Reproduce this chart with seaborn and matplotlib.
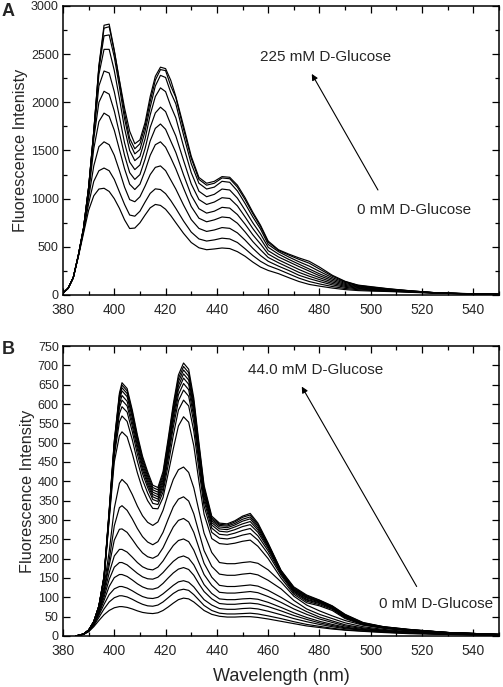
import numpy as np
import pandas as pd
import matplotlib
matplotlib.use("Agg")
import matplotlib.pyplot as plt
import seaborn as sns
from matplotlib.ticker import MultipleLocator

sns.set_style("ticks")
plt.rcParams['font.family'] = ['Liberation Sans', 'DejaVu Sans']

# ---------------- Panel A data (0 -> 225 mM D-Glucose) ----------------
wl_a = [380, 382, 384, 386, 388, 390, 392, 394, 396, 398,
        400, 402, 404, 406, 408, 410, 412, 414, 416, 418,
        420, 422, 424, 427, 430, 433, 436, 439, 442, 445,
        448, 451, 454, 457, 460, 464, 468, 472, 476, 480,
        485, 490, 495, 500, 507, 515, 525, 535, 550]

a0 = [20, 70, 180, 400, 640, 880, 1030, 1100, 1108, 1075,
      1000, 900, 780, 690, 695, 750, 830, 905, 940, 930,
      890, 825, 750, 640, 545, 490, 470, 478, 488, 482,
      450, 402, 342, 290, 255, 222, 180, 140, 110, 92,
      72, 56, 46, 41, 36, 28, 19, 13, 6]
a1 = [20, 70, 180, 405, 660, 950, 1180, 1290, 1318, 1290,
      1200, 1070, 940, 830, 818, 870, 965, 1055, 1102, 1095,
      1052, 981, 899, 768, 653, 582, 560, 572, 590, 582,
      545, 480, 410, 350, 305, 265, 220, 175, 140, 115,
      88, 68, 55, 47, 40, 31, 20, 13, 6]
a2 = [20, 70, 180, 410, 675, 1010, 1340, 1540, 1590, 1560,
      1450, 1290, 1120, 990, 968, 1020, 1130, 1250, 1325, 1340,
      1291, 1195, 1099, 934, 783, 691, 660, 675, 700, 692,
      645, 570, 485, 410, 350, 300, 255, 205, 170, 140,
      105, 80, 63, 53, 44, 33, 21, 14, 7]
a3 = [20, 70, 180, 412, 685, 1060, 1520, 1800, 1888, 1855,
      1710, 1510, 1310, 1150, 1095, 1150, 1290, 1450, 1560, 1590,
      1534, 1426, 1309, 1109, 918, 797, 760, 780, 810, 802,
      745, 655, 555, 470, 390, 335, 285, 235, 195, 160,
      120, 90, 70, 58, 47, 35, 22, 14, 7]
a4 = [20, 70, 180, 413, 688, 1090, 1620, 2000, 2115, 2085,
      1910, 1680, 1450, 1270, 1200, 1250, 1410, 1600, 1730, 1775,
      1720, 1599, 1479, 1248, 1035, 896, 850, 870, 910, 902,
      835, 735, 625, 530, 425, 365, 315, 265, 220, 180,
      135, 100, 77, 63, 50, 37, 22, 14, 7]
a5 = [20, 70, 180, 414, 690, 1105, 1660, 2170, 2325, 2305,
      2110, 1850, 1580, 1380, 1302, 1350, 1520, 1740, 1890, 1950,
      1904, 1772, 1650, 1397, 1153, 991, 940, 965, 1010, 1002,
      925, 810, 690, 585, 460, 395, 345, 295, 248, 200,
      150, 110, 83, 68, 53, 39, 23, 15, 7]
a6 = [20, 70, 180, 415, 690, 1115, 1685, 2290, 2550, 2550,
      2330, 2040, 1730, 1500, 1395, 1440, 1620, 1870, 2060, 2150,
      2111, 1963, 1838, 1543, 1270, 1077, 1020, 1045, 1100, 1090,
      1005, 880, 750, 635, 495, 425, 370, 320, 270, 220,
      165, 120, 89, 73, 56, 41, 23, 15, 7]
a7 = [20, 70, 180, 415, 692, 1118, 1695, 2350, 2690, 2700,
      2470, 2160, 1830, 1580, 1465, 1510, 1700, 1950, 2170, 2280,
      2258, 2103, 1984, 1661, 1363, 1160, 1100, 1120, 1180, 1170,
      1080, 950, 810, 685, 525, 450, 395, 345, 300, 245,
      180, 130, 95, 78, 60, 43, 24, 15, 8]
a8 = [20, 70, 180, 415, 695, 1120, 1700, 2370, 2770, 2785,
      2530, 2220, 1890, 1625, 1518, 1570, 1750, 2010, 2230, 2340,
      2329, 2171, 2050, 1722, 1419, 1200, 1140, 1160, 1215, 1207,
      1120, 990, 845, 712, 548, 463, 415, 370, 330, 270,
      195, 138, 100, 83, 63, 44, 24, 16, 8]
a9 = [20, 70, 180, 415, 695, 1120, 1700, 2380, 2800, 2812,
      2540, 2230, 1940, 1700, 1570, 1610, 1790, 2060, 2270, 2365,
      2350, 2230, 2060, 1755, 1440, 1220, 1160, 1180, 1229, 1222,
      1140, 1010, 860, 725, 560, 470, 425, 385, 350, 290,
      205, 142, 103, 87, 65, 45, 24, 16, 8]
curves_a = [a0, a1, a2, a3, a4, a5, a6, a7, a8, a9]

# ---------------- Panel B data (0 -> 44.0 mM D-Glucose) ----------------
wl_b = [385, 388, 390, 392, 394, 396, 398, 400, 402, 403,
        405, 407, 409, 411, 413, 415, 417, 419, 421, 423,
        425, 427, 429, 431, 433, 435, 438, 441, 444, 447,
        450, 453, 456, 460, 465, 470, 475, 480, 485, 490,
        497, 505, 515, 530, 550]

b0 = [0, 4, 11, 24, 40, 55, 66, 73, 76, 76, 74, 70, 65, 61, 59, 58, 60, 66, 75, 85,
      94, 98, 96, 88, 77, 66, 56, 51, 49, 49, 50, 50,
      48, 44, 38, 32, 26, 22, 18, 15, 12, 9, 6, 4, 2]
b1 = [0, 4, 12, 27, 48, 70, 88, 99, 104, 104, 101, 95, 88, 82, 78, 77, 80, 88, 99, 110,
      118, 121, 118, 107, 93, 79, 66, 59, 57, 57, 58, 59,
      57, 52, 45, 37, 30, 25, 20, 16, 13, 10, 7, 4, 2]
b2 = [0, 5, 13, 29, 54, 82, 107, 122, 128, 128, 124, 117, 109, 102, 98, 97, 100, 109, 120, 131,
      140, 143, 139, 127, 110, 94, 80, 71, 69, 69, 71, 72,
      70, 64, 55, 45, 37, 30, 24, 19, 15, 11, 8, 5, 2]
b3 = [0, 5, 13, 30, 58, 92, 128, 151, 159, 159, 154, 145, 135, 127, 122, 121, 125, 136, 150, 163,
      173, 177, 172, 157, 135, 115, 96, 84, 82, 82, 84, 85,
      83, 76, 65, 53, 43, 34, 27, 21, 16, 12, 8, 5, 2]
b4 = [0, 5, 14, 31, 61, 100, 146, 178, 190, 190, 184, 173, 162, 153, 148, 147, 152, 164, 179, 193,
      203, 207, 201, 184, 158, 133, 110, 96, 94, 94, 96, 97,
      95, 87, 74, 60, 48, 38, 30, 23, 17, 13, 9, 5, 2]
b5 = [0, 5, 14, 32, 64, 108, 163, 207, 224, 224, 217, 204, 190, 179, 173, 171, 178, 194, 215, 234,
      247, 251, 244, 222, 190, 159, 131, 113, 111, 111, 113, 115,
      112, 102, 87, 70, 56, 44, 35, 26, 19, 14, 9, 6, 3]
b6 = [0, 5, 14, 33, 66, 115, 182, 248, 276, 277, 268, 250, 231, 215, 205, 201, 208, 228, 256, 282,
      299, 304, 295, 268, 228, 188, 152, 131, 128, 128, 130, 132,
      129, 118, 100, 80, 63, 49, 39, 29, 21, 15, 10, 6, 3]
b7 = [0, 5, 15, 34, 68, 120, 196, 285, 332, 337, 325, 303, 278, 257, 243, 236, 244, 268, 302, 334,
      354, 360, 349, 316, 268, 221, 180, 160, 157, 157, 160, 162,
      158, 144, 122, 92, 70, 56, 45, 34, 24, 17, 11, 7, 3]
b8 = [0, 5, 15, 35, 70, 128, 218, 330, 395, 405, 392, 366, 336, 311, 294, 286, 295, 325, 367, 405,
      430, 437, 423, 383, 324, 266, 216, 190, 187, 187, 190, 192,
      188, 171, 140, 103, 80, 65, 52, 40, 28, 20, 13, 8, 3]
b9 = [0, 5, 15, 37, 75, 145, 300, 450, 518, 528, 515, 472, 422, 380, 350, 330, 329, 358, 420, 484,
      543, 567, 553, 492, 400, 315, 252, 239, 237, 240, 245, 248,
      232, 200, 150, 108, 86, 78, 66, 45, 29, 21, 14, 8, 4]
b10 = [0, 5, 15, 37, 76, 147, 306, 466, 554, 569, 555, 508, 452, 404, 370, 343, 340, 372, 442, 519,
       584, 610, 595, 530, 430, 336, 268, 253, 251, 255, 261, 265,
       248, 212, 157, 112, 90, 81, 69, 47, 30, 21, 14, 8, 4]
b11 = [0, 5, 15, 37, 76, 148, 310, 475, 575, 593, 579, 529, 470, 420, 384, 353, 348, 382, 458, 540,
       608, 636, 620, 552, 448, 349, 279, 263, 261, 266, 273, 278,
       259, 220, 161, 115, 93, 84, 71, 49, 31, 22, 15, 8, 4]
b12 = [0, 5, 15, 37, 77, 150, 314, 484, 590, 610, 595, 543, 483, 430, 392, 360, 354, 390, 469, 554,
       624, 653, 637, 567, 460, 358, 287, 271, 269, 275, 283, 288,
       268, 226, 164, 117, 95, 86, 72, 50, 32, 22, 15, 9, 4]
b13 = [0, 5, 15, 37, 77, 151, 316, 490, 600, 622, 607, 554, 492, 438, 399, 366, 360, 397, 478, 566,
       637, 667, 651, 579, 470, 366, 293, 277, 275, 282, 290, 296,
       274, 230, 166, 119, 98, 88, 74, 51, 32, 23, 16, 9, 4]
b14 = [0, 5, 15, 37, 77, 152, 318, 494, 610, 634, 619, 565, 501, 446, 406, 372, 366, 404, 486, 575,
       647, 678, 662, 589, 478, 372, 298, 282, 280, 287, 297, 303,
       279, 233, 167, 121, 100, 89, 75, 52, 33, 23, 16, 9, 4]
b15 = [0, 5, 15, 37, 78, 153, 320, 498, 617, 642, 627, 572, 508, 453, 413, 378, 372, 411, 494, 584,
       657, 688, 672, 598, 485, 378, 302, 286, 284, 291, 302, 308,
       284, 236, 168, 123, 102, 90, 76, 53, 33, 23, 16, 9, 4]
b16 = [0, 5, 15, 37, 78, 154, 322, 502, 623, 649, 634, 579, 514, 459, 419, 384, 378, 418, 502, 592,
       666, 697, 681, 606, 492, 384, 306, 289, 287, 295, 307, 313,
       288, 238, 169, 125, 104, 92, 77, 55, 34, 24, 17, 9, 4]
b17 = [0, 5, 15, 37, 78, 155, 325, 505, 628, 655, 640, 585, 520, 465, 425, 390, 384, 425, 510, 600,
       675, 706, 690, 615, 500, 390, 310, 292, 290, 298, 310, 317,
       292, 240, 170, 127, 106, 93, 78, 56, 35, 24, 17, 9, 4]
curves_b = [b0, b1, b2, b3, b4, b5, b6, b7, b8, b9, b10, b11, b12, b13, b14, b15, b16, b17]

xticks = [380, 400, 420, 440, 460, 480, 500, 520, 540]
yticks_a = [0, 500, 1000, 1500, 2000, 2500, 3000]
yticks_b = list(range(0, 751, 50))


def long_frame(wl, curves):
    rows = []
    for k, c in enumerate(curves):
        for w, v in zip(wl, c):
            rows.append({"wl": w, "I": v, "curve": k})
    return pd.DataFrame(rows)


df_a = long_frame(wl_a, curves_a)
df_b = long_frame(wl_b, curves_b)

fig = plt.figure(figsize=(5.03, 6.87), dpi=100)
ax_a = fig.add_axes([63 / 503, 1 - 295 / 687, 436 / 503, 289 / 687])
ax_b = fig.add_axes([63 / 503, 1 - 636 / 687, 436 / 503, 290 / 687])

for ax, df in ((ax_a, df_a), (ax_b, df_b)):
    sns.lineplot(data=df, x="wl", y="I", units="curve", estimator=None,
                 color="black", lw=0.85, ax=ax, legend=False)

def style(ax, yt, ymax, yminor=None):
    ax.set_xlim(380, 550)
    ax.set_ylim(0, ymax)
    ax.set_xticks(xticks)
    ax.set_yticks(yt)
    ax.xaxis.set_minor_locator(MultipleLocator(10))
    if yminor:
        ax.yaxis.set_minor_locator(MultipleLocator(yminor))
    ax.tick_params(which="both", direction="in", top=True, right=True,
                   labeltop=False, labelright=False, width=0.9, color="black")
    ax.tick_params(which="major", length=5)
    ax.tick_params(which="minor", length=3)
    ax.tick_params(axis="x", labelsize=10, pad=6)
    ax.tick_params(axis="y", labelsize=9, pad=3)
    for s in ax.spines.values():
        s.set_linewidth(1.1)
        s.set_color("black")

style(ax_a, yticks_a, 3000, 250)
style(ax_b, yticks_b, 750)

ax_a.set_xlabel("")
ax_a.set_ylabel("Fluorescence Intenisty", fontsize=11.7, labelpad=2)
ax_b.set_xlabel("Wavelength (nm)", fontsize=13, labelpad=7)
ax_b.set_ylabel("Fluorescence Intensity", fontsize=11.7, labelpad=2)

arrow = dict(arrowstyle="-|>", lw=0.8, color="black", mutation_scale=9,
             shrinkA=0, shrinkB=0)
ax_a.text(456.8, 2470, "225 mM D-Glucose", fontsize=11, va="center", ha="left")
ax_a.text(494.5, 883, "0 mM D-Glucose", fontsize=11, va="center", ha="left")
ax_a.annotate("", xy=(477, 2295), xytext=(502.8, 1090), arrowprops=arrow)

ax_b.text(452.3, 688, "44.0 mM D-Glucose", fontsize=11, va="center", ha="left")
ax_b.text(503.3, 82, "0 mM D-Glucose", fontsize=11, va="center", ha="left")
ax_b.annotate("", xy=(473.1, 645), xytext=(517.9, 128), arrowprops=arrow)

fig.text(0.004, 1 - 3 / 687, "A", fontsize=13, fontweight="bold", va="top", ha="left")
fig.text(0.004, 1 - 341 / 687, "B", fontsize=13, fontweight="bold", va="top", ha="left")

fig.savefig("out.png", dpi=100)
